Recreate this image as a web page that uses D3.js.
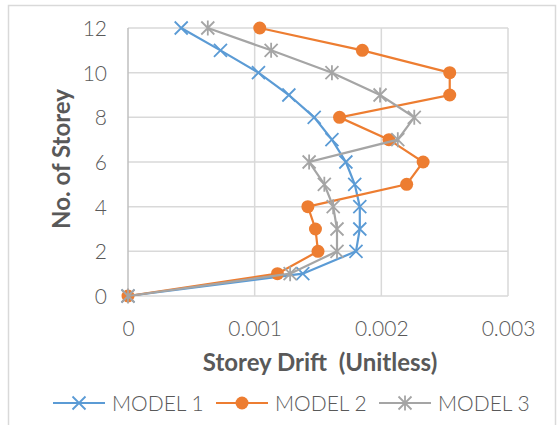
<!DOCTYPE html>
<html>
<head>
<meta charset="utf-8">
<script src="https://cdn.jsdelivr.net/npm/d3@7"></script>
<style>
	body { margin: 0; background: #fff; }
	text { font-family: Lato, "Open Sans", sans-serif; }
</style>
</head>
<body>
<script>
'use strict';

// storey levels (y) and drift per model (x)
const storeys = [0, 1, 2, 3, 4, 5, 6, 7, 8, 9, 10, 11, 12];
const model1 = [0, 0.00138, 0.0018, 0.00183, 0.00183, 0.00179, 0.00172, 0.00161, 0.00147, 0.00127, 0.00103, 0.00073, 0.00042];
const model2 = [0, 0.00118, 0.0015, 0.00148, 0.00142, 0.0022, 0.00233, 0.00206, 0.00167, 0.00254, 0.00254, 0.00185, 0.00104];
const model3 = [0, 0.00128, 0.00165, 0.00165, 0.00162, 0.00155, 0.00143, 0.00213, 0.00226, 0.00199, 0.00161, 0.00113, 0.00063];
const xTicks = [0, 0.001, 0.002, 0.003];
const yTicks = [0, 2, 4, 6, 8, 10, 12];
const seriesNames = ["MODEL 1", "MODEL 2", "MODEL 3"];

const params = { width: 557, height: 425, left: 128, right: 508, top: 28, bottom: 296 };

const series = [
	{ name: seriesNames[0], values: model1, color: "#5b9bd5", marker: "x" },
	{ name: seriesNames[1], values: model2, color: "#ed7d31", marker: "circle" },
	{ name: seriesNames[2], values: model3, color: "#a5a5a5", marker: "star" }
];

const svg = d3.select("body").append("svg")
	.attr("width", params.width)
	.attr("height", params.height);

// outer chart frame
svg.append("rect")
	.attr("x", 8.5).attr("y", 5.5)
	.attr("width", 547).attr("height", 430)
	.attr("fill", "none").attr("stroke", "#d9d9d9").attr("stroke-width", 1.5);

const xScale = d3.scaleLinear().domain([0, 0.003]).range([params.left, params.right]);
const yScale = d3.scaleLinear().domain([0, 12]).range([params.bottom, params.top]);

// gridlines
svg.append("g")
	.selectAll("line.h")
	.data(yTicks)
	.join("line")
	.attr("x1", params.left).attr("x2", params.right)
	.attr("y1", d => yScale(d)).attr("y2", d => yScale(d))
	.attr("stroke", "#d9d9d9").attr("stroke-width", 1.5);

svg.append("g")
	.selectAll("line.v")
	.data(xTicks)
	.join("line")
	.attr("x1", d => xScale(d)).attr("x2", d => xScale(d))
	.attr("y1", params.top).attr("y2", params.bottom)
	.attr("stroke", d => d === 0 ? "#bfbfbf" : "#d9d9d9").attr("stroke-width", 1.5);

// tick labels
const xAxis = svg.append("g")
	.attr("transform", `translate(0, ${params.bottom + 20})`)
	.call(d3.axisBottom(xScale).tickValues(xTicks).tickFormat(d => d === 0 ? "0" : d3.format(".3f")(d)).tickSize(0).tickPadding(0));
xAxis.select(".domain").remove();
xAxis.selectAll("text")
	.attr("dy", "0.95em")
	.attr("font-size", 21).attr("font-weight", 300).attr("fill", "#595959");

const yAxis = svg.append("g")
	.attr("transform", `translate(${params.left - 21}, 0)`)
	.call(d3.axisLeft(yScale).tickValues(yTicks).tickSize(0).tickPadding(0));
yAxis.select(".domain").remove();
yAxis.selectAll("text")
	.attr("dy", "0.36em")
	.attr("font-size", 21).attr("font-weight", 300).attr("fill", "#595959");

// axis titles
svg.append("text")
	.attr("x", (params.left + params.right) / 2 + 2)
	.attr("y", 371)
	.attr("text-anchor", "middle")
	.attr("font-size", 24).attr("font-weight", "bold").attr("fill", "#595959")
	.attr("xml:space", "preserve")
	.text("Storey Drift  (Unitless)");

svg.append("text")
	.attr("transform", "translate(70, 159) rotate(-90)")
	.attr("text-anchor", "middle")
	.attr("font-size", 24).attr("font-weight", "bold").attr("fill", "#595959")
	.text("No. of Storey");

// markers
const drawMarker = (g, type, color, x, y) => {
	if (type === "circle") {
		g.append("circle").attr("cx", x).attr("cy", y).attr("r", 6.5).attr("fill", color);
	} else if (type === "x") {
		const s = 6.5;
		g.append("path")
			.attr("d", `M${x - s},${y - s}L${x + s},${y + s}M${x - s},${y + s}L${x + s},${y - s}`)
			.attr("stroke", color).attr("stroke-width", 1.8).attr("fill", "none");
	} else {
		const s = 6.5;
		g.append("path")
			.attr("d", `M${x - s},${y - s}L${x + s},${y + s}M${x - s},${y + s}L${x + s},${y - s}M${x},${y - s - 1}L${x},${y + s + 1}`)
			.attr("stroke", color).attr("stroke-width", 1.8).attr("fill", "none");
	}
};

const line = d3.line()
	.x(d => xScale(d.x))
	.y(d => yScale(d.y));

series.forEach(s => {
	const pts = s.values.map((v, i) => ({ x: v, y: storeys[i] }));
	const g = svg.append("g");
	g.append("path")
		.attr("d", line(pts))
		.attr("fill", "none")
		.attr("stroke", s.color)
		.attr("stroke-width", 2.2);
	pts.forEach(p => drawMarker(g, s.marker, s.color, xScale(p.x), yScale(p.y)));
});

// legend
const legendX = [53, 216, 379];
const legendY = 403;
series.forEach((s, i) => {
	const g = svg.append("g");
	g.append("line")
		.attr("x1", legendX[i]).attr("x2", legendX[i] + 52)
		.attr("y1", legendY).attr("y2", legendY)
		.attr("stroke", s.color).attr("stroke-width", 2.2);
	drawMarker(g, s.marker, s.color, legendX[i] + 26, legendY);
	g.append("text")
		.attr("x", legendX[i] + 59)
		.attr("y", legendY)
		.attr("dy", "0.36em")
		.attr("font-size", 21).attr("font-weight", 300).attr("fill", "#595959")
		.text(s.name);
});
</script>
</body>
</html>
